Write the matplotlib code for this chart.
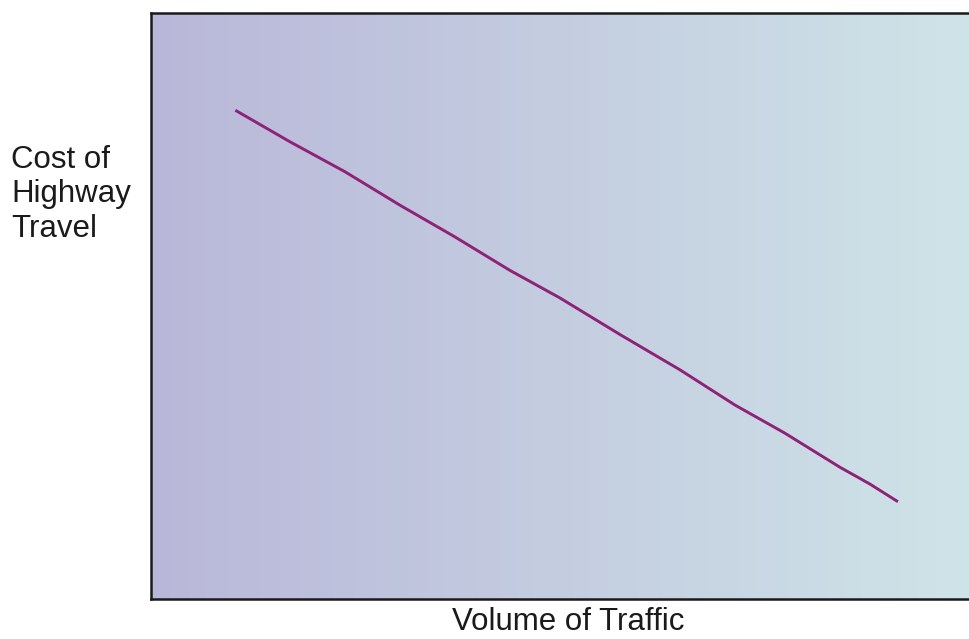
import numpy as np
import matplotlib
matplotlib.use("Agg")
import matplotlib.pyplot as plt
from matplotlib.colors import LinearSegmentedColormap

# Data (arbitrary units 0-100)
volume = [10.3, 17.0, 23.7, 30.4, 37.1, 43.8, 49.9, 57.3, 64.6, 71.3, 77.4, 84.1, 87.8, 91.2]
cost = [83.4, 78.0, 72.9, 67.2, 61.8, 56.1, 51.4, 45.1, 39.1, 33.1, 28.3, 22.5, 19.6, 16.6]
x_label = "Volume of Traffic"
y_label = "Cost of\nHighway\nTravel"

plt.rcParams['font.family'] = ['Liberation Sans', 'DejaVu Sans']

W, H = 970, 639
fig = plt.figure(figsize=(W / 100, H / 100), dpi=100)
left, bottom, top = 151, 599, 13
right = 975
ax = fig.add_axes([left / W, 1 - bottom / H, (right - left) / W, (bottom - top) / H])
ax.set_xlim(0, 100 * (right - left) / (970 - left))
ax.set_ylim(0, 100)

cmap = LinearSegmentedColormap.from_list("bg", ["#b9b7d9", "#cfe4e8"])
grad = np.linspace(0, 1, 256).reshape(1, -1)
ax.imshow(grad, cmap=cmap, aspect='auto', extent=[0, ax.get_xlim()[1], 0, 100], zorder=0)

ax.plot(volume, cost, color="#8e2277", linewidth=2.1, solid_capstyle='butt', zorder=2)

ax.set_xticks([])
ax.set_yticks([])
for s in ax.spines.values():
    s.set_linewidth(1.8)
    s.set_color("#1a1a1a")

fig.text(568 / W, 1 - 630 / H, x_label, ha='center', va='baseline', fontsize=22.5, color="#1a1a1a")
fig.text(11 / W, 1 - 237 / H, y_label, ha='left', va='baseline', fontsize=22.5,
         linespacing=1.2, color="#1a1a1a")

fig.savefig("out.png", dpi=100)
